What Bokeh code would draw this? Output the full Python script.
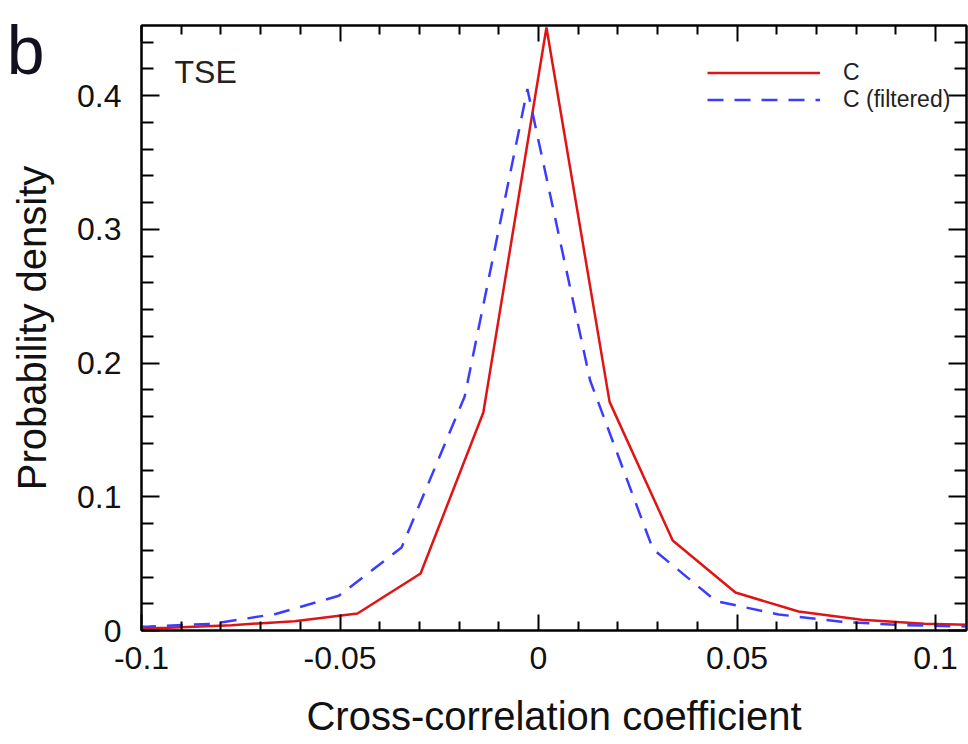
from bokeh.plotting import figure
from bokeh.models import Range1d, LinearAxis, Label, Legend, LegendItem, FixedTicker
from bokeh.embed import file_html
from bokeh.resources import INLINE

# Data
x_c = [-0.1090, -0.0932, -0.0773, -0.0615, -0.0456, -0.0297, -0.0139, 0.0020,
       0.0179, 0.0338, 0.0496, 0.0655, 0.0814, 0.0972, 0.1131]
y_c = [0.0015, 0.002, 0.004, 0.007, 0.0127, 0.0426, 0.163, 0.451,
       0.171, 0.0673, 0.0284, 0.0142, 0.008, 0.005, 0.004]

x_f = [-0.1140, -0.0980, -0.0820, -0.0660, -0.0503, -0.0345, -0.0186, -0.0028,
       0.0130, 0.0288, 0.0447, 0.0605, 0.0763, 0.0920, 0.1080]
y_f = [0.002, 0.003, 0.005, 0.0125, 0.026, 0.062, 0.175, 0.405,
       0.187, 0.061, 0.022, 0.012, 0.0065, 0.004, 0.003]

x_ticks = [-0.1, -0.05, 0, 0.05, 0.1]
x_tick_labels = {-0.1: "-0.1", -0.05: "-0.05", 0: "0", 0.05: "0.05", 0.1: "0.1"}
y_ticks = [0, 0.1, 0.2, 0.3, 0.4]
y_tick_labels = {0: "0", 0.1: "0.1", 0.2: "0.2", 0.3: "0.3", 0.4: "0.4"}

PANEL_LETTER = "b"
PANEL_LETTER_Y = 0.4513   # vertical anchor of the panel letter, top-left of the figure

FONT = "Liberation Sans"
RED = "#e01414"
BLUE = "#3c3cff"

p = figure(width=968, height=740, output_backend="svg", toolbar_location=None,
           x_range=Range1d(-0.1, 0.1078), y_range=Range1d(0, 0.4525),
           min_border_left=141, min_border_right=2, min_border_top=25, min_border_bottom=110,
           x_axis_label="Cross-correlation coefficient", y_axis_label="Probability density")

p.background_fill_color = "white"
p.border_fill_color = "white"
p.outline_line_color = "black"
p.outline_line_width = 2
p.xgrid.visible = False
p.ygrid.visible = False

r1 = p.line(x_c, y_c, line_color=RED, line_width=2.5)
r2 = p.line(x_f, y_f, line_color=BLUE, line_width=2.5, line_dash="16 11")

def style_axis(ax, major_in, minor_in, labels=None):
    ax.axis_line_color = "black"
    ax.axis_line_width = 2
    ax.major_tick_in = major_in
    ax.major_tick_out = 0
    ax.minor_tick_in = minor_in
    ax.minor_tick_out = 0
    ax.major_tick_line_width = 2
    ax.minor_tick_line_width = 2
    ax.major_tick_line_color = "black"
    ax.minor_tick_line_color = "black"
    if labels is not None:
        ax.major_label_overrides = labels
        ax.major_label_text_font = FONT
        ax.major_label_text_font_size = "32px"
        ax.major_label_text_color = "#111111"
    else:
        ax.major_label_text_font_size = "0px"

x_minor = [round(-0.1 + 0.01 * i, 3) for i in range(21) if i % 5 != 0]
y_minor = [round(0.02 * i, 3) for i in range(23) if i % 5 != 0]

xa = p.xaxis[0]
style_axis(xa, 16, 9, x_tick_labels)
xa.ticker = FixedTicker(ticks=x_ticks, minor_ticks=x_minor)
xa.major_label_standoff = 16
xa.axis_label_text_font = FONT
xa.axis_label_text_font_style = "normal"
xa.axis_label_text_font_size = "40px"
xa.axis_label_standoff = 22
xa.axis_label_text_color = "#111111"

ya = p.yaxis[0]
style_axis(ya, 18, 12, y_tick_labels)
ya.ticker = FixedTicker(ticks=y_ticks, minor_ticks=y_minor)
ya.major_label_standoff = 20
ya.axis_label_text_font = FONT
ya.axis_label_text_font_style = "normal"
ya.axis_label_text_font_size = "40px"
ya.axis_label_standoff = 20
ya.axis_label_text_color = "#111111"

top = LinearAxis()
style_axis(top, 16, 9)
top.ticker = FixedTicker(ticks=x_ticks, minor_ticks=x_minor)
p.add_layout(top, "above")

right = LinearAxis()
style_axis(right, 18, 12)
right.ticker = FixedTicker(ticks=y_ticks, minor_ticks=y_minor)
p.add_layout(right, "right")

# panel letter "b", carried by an invisible outer left axis (annotations are clipped to the frame)
letter_axis = LinearAxis(ticker=FixedTicker(ticks=[PANEL_LETTER_Y], minor_ticks=[]),
                         major_label_overrides={PANEL_LETTER_Y: PANEL_LETTER})
letter_axis.axis_line_color = None
letter_axis.major_tick_line_color = None
letter_axis.minor_tick_line_color = None
letter_axis.major_tick_in = 0
letter_axis.major_tick_out = 0
letter_axis.minor_tick_in = 0
letter_axis.minor_tick_out = 0
letter_axis.major_label_standoff = -37
letter_axis.major_label_text_font = FONT
letter_axis.major_label_text_font_size = "68px"
letter_axis.major_label_text_color = "#111122"
p.add_layout(letter_axis, "left")

legend = Legend(items=[LegendItem(label="C", renderers=[r1]),
                       LegendItem(label="C (filtered)", renderers=[r2])],
                location=(566, 517), orientation="vertical")
legend.background_fill_alpha = 0
legend.border_line_alpha = 0
legend.padding = 0
legend.margin = 0
legend.spacing = 0
legend.glyph_width = 113
legend.glyph_height = 27
legend.label_height = 27
legend.label_standoff = 23
legend.label_text_font = FONT
legend.label_text_font_size = "23px"
legend.label_text_color = "#222222"
p.add_layout(legend, "center")

tse = Label(x=33, y=559, x_units="screen", y_units="screen", text="TSE",
            text_font=FONT, text_font_size="32px", text_color="#222222",
            text_baseline="alphabetic")
p.add_layout(tse)

open("out.html", "w").write(file_html(p, INLINE))
